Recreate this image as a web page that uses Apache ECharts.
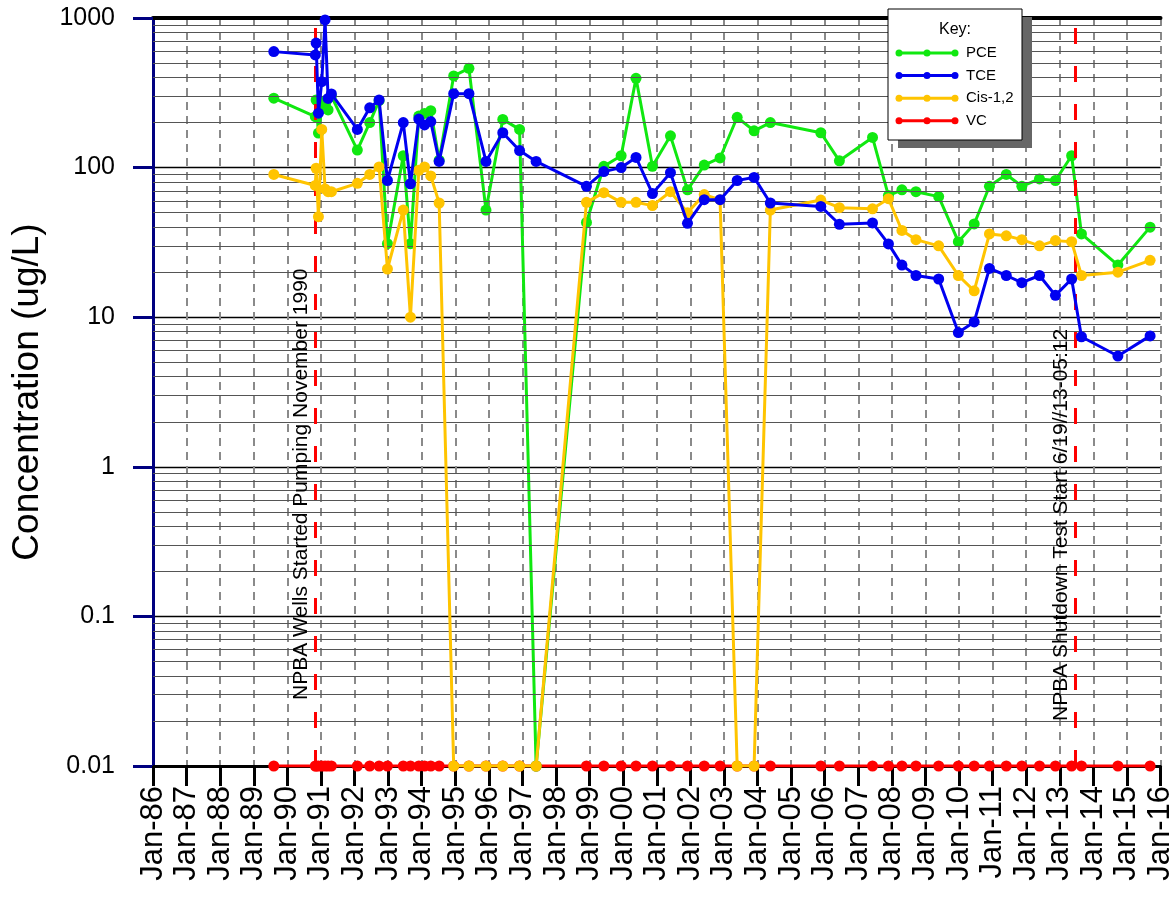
<!DOCTYPE html>
<html>
<head>
<meta charset="utf-8">
<script src="https://cdn.jsdelivr.net/npm/echarts@6/dist/echarts.min.js"></script>
<style>
html,body{margin:0;padding:0;background:#fff;}
#chart{width:1176px;height:901px;}
</style>
</head>
<body>
<div id="chart"></div>
<script>
// ---- data ----
const sampleDates = [
 '1989-08-07','1990-11-01','1990-11-10','1990-12-05','1991-01-10','1991-02-15','1991-03-20','1991-04-25',
 '1992-02-01','1992-06-15','1992-09-25','1992-12-25','1993-06-15','1993-09-01','1993-12-01','1994-02-01',
 '1994-04-10','1994-07-10','1994-12-15','1995-05-30','1995-12-01','1996-06-01','1996-12-01','1997-05-30',
 '1998-11-28','1999-06-05','1999-12-10','2000-05-20','2000-11-15','2001-05-30','2001-12-01','2002-06-01',
 '2002-11-20','2003-05-25','2003-11-25','2004-05-20','2005-11-20','2006-06-10','2007-06-05','2007-11-25',
 '2008-04-20','2008-09-20','2009-05-25','2009-12-25','2010-06-15','2010-11-28','2011-05-30','2011-11-15',
 '2012-05-25','2012-11-15','2013-05-10','2013-08-25','2014-09-25','2015-09-10'
];
const pce = [
 291,219,283,170,250,280,243,300,
 131,200,280,31,120,31,221,230,
 240,112,410,461,52,210,180,0.01,
 43,102,120,395,102,163,71,104,
 116,217,176,200,171,111,159,65,
 71,69,64,32,42,75,90,75,
 84,82,120,36,22.3,40
];
const tce = [
 596,566,680,231,375,970,290,311,
 180,251,283,82,200,78,211,193,
 203,110,312,312,110,171,130,110,
 75,94,100,117,67,92.5,42.4,61,
 61,82,86,58,55,41.8,42.7,30.9,
 22.3,19,18,7.9,9.3,21.2,19,17,
 19,14,18,7.4,5.5,7.5
];
const cis = [
 90,76,99,47,180,72,69,69,
 78.5,90,101,21,52,10,96,101,
 88,58,0.01,0.01,0.01,0.01,0.01,0.01,
 58.6,68,58.6,58.6,55.7,69,50,66,
 61,0.01,0.01,52,60.7,54,53,62,
 38,33,30,19,15,36,35,33,
 30,32.5,32,19,20,24
];
const vc = sampleDates.map(() => 0.01);

const seriesNames = ['PCE','TCE','Cis-1,2','VC'];
const seriesColors = ['#10e810','#0000f0','#ffc400','#ff0000'];
const minorGridValues = [];
[0.01,0.1,1,10,100].forEach(b => { for (let k = 2; k <= 9; k++) minorGridValues.push(+(b*k).toPrecision(3)); });
const eventLines = [
 {date:'1990-11-01', label:'NPBA Wells Started Pumping November 1990'},
 {date:'2013-06-19', label:'NPBA Shutdown Test Start 6/19//13-05:12'}
];

function toYear(s){
  const p = s.split('-').map(Number);
  const t = Date.UTC(p[0], p[1]-1, p[2]);
  const t0 = Date.UTC(p[0],0,1), t1 = Date.UTC(p[0]+1,0,1);
  return p[0] + (t - t0)/(t1 - t0);
}
const xs = sampleDates.map(toYear);
const pair = arr => arr.map((v,i) => [xs[i], v]);

const chart = echarts.init(document.getElementById('chart'), null, {renderer:'canvas'});

function lineSeries(name, arr, color, z){
  return {
    name, type:'line', data: pair(arr), z,
    symbol:'circle', symbolSize:11, showSymbol:true,
    lineStyle:{color, width:3}, itemStyle:{color},
    animation:false
  };
}

const option = {
  animation:false,
  backgroundColor:'#ffffff',
  grid:{left:153, right:11, top:18, bottom:135, containLabel:false},
  xAxis:[{
    type:'value', min:1986, max:2016, interval:1,
    axisLine:{show:true, onZero:false, lineStyle:{color:'#000', width:3}},
    axisTick:{show:true, inside:false, length:20, lineStyle:{color:'#000', width:3}},
    axisLabel:{rotate:90, margin:20, fontSize:31, fontFamily:'Liberation Sans, Arial', color:'#000',
      formatter: v => 'Jan-' + String(Math.round(v) % 100).padStart(2,'0')},
    splitLine:{show:true, lineStyle:{color:'#8a8a8a', width:2, type:[8,6]}}
  },{
    type:'value', min:1986, max:2016, position:'top',
    axisLine:{show:true, lineStyle:{color:'#000', width:4}},
    axisTick:{show:false}, axisLabel:{show:false}, splitLine:{show:false}
  }],
  yAxis:{
    type:'log', logBase:10, min:0.01, max:1000,
    name:'Concentration (ug/L)', nameLocation:'middle', nameGap:107, nameRotate:90,
    nameTextStyle:{fontSize:37, fontFamily:'Liberation Sans, Arial', color:'#000'},
    axisLine:{show:true, lineStyle:{color:'#000080', width:3}},
    axisTick:{show:true, inside:false, length:20, lineStyle:{color:'#000080', width:3}},
    axisLabel:{fontSize:25, margin:38, fontFamily:'Liberation Sans, Arial', color:'#000',
      formatter: v => String(v)},
    splitLine:{show:true, lineStyle:{color:'#000', width:1.3}},
    minorTick:{show:false}
  },
  series:[
    {
      name:'gridMinor', type:'line', data:[], silent:true, z:1,
      markLine:{silent:true, symbol:'none', animation:false, label:{show:false},
        lineStyle:{color:'#555', width:1, type:'solid'},
        data: minorGridValues.map(v => ({yAxis:v}))}
    },
    Object.assign(lineSeries('VC', vc, seriesColors[3], 3), {
      markLine:{silent:true, symbol:'none', animation:false, label:{show:false},
        lineStyle:{color:'#ff0000', width:3, type:[16,22]},
        data: eventLines.map(e => ({xAxis: toYear(e.date)}))}
    }),
    lineSeries('PCE', pce, seriesColors[0], 4),
    lineSeries('Cis-1,2', cis, seriesColors[2], 5),
    lineSeries('TCE', tce, seriesColors[1], 6)
  ]
};
chart.setOption(option);

// legend box + annotations
const legendX = 888, legendY = 9, legendW = 134, legendH = 131;
const legendItems = [];
seriesNames.forEach((n, i) => {
  const y = legendY + 44 + i * 22.6;
  const c = seriesColors[i];
  legendItems.push({type:'line', shape:{x1:legendX+11, y1:y, x2:legendX+67, y2:y}, style:{stroke:c, lineWidth:3}, z:101});
  [11, 39, 67].forEach(dx => legendItems.push({type:'circle', shape:{cx:legendX+dx, cy:y, r:3.5}, style:{fill:c}, z:102}));
  legendItems.push({type:'text', x:legendX+78, y:y, style:{text:n, fill:'#000', font:'15px "Liberation Sans", Arial', textVerticalAlign:'middle', textAlign:'left'}, z:102});
});
const graphics = [
  {type:'rect', shape:{x:legendX+10, y:legendY+8, width:legendW, height:legendH}, style:{fill:'#666'}, z:99},
  {type:'rect', shape:{x:legendX, y:legendY, width:legendW, height:legendH}, style:{fill:'#fff', stroke:'#000', lineWidth:1}, z:100},
  {type:'text', x:legendX+legendW/2, y:legendY+21, style:{text:'Key:', fill:'#000', font:'16px "Liberation Sans", Arial', textAlign:'center', textVerticalAlign:'middle'}, z:102}
].concat(legendItems);

eventLines.forEach((e, i) => {
  const p = chart.convertToPixel({xAxisIndex:0, yAxisIndex:0}, [toYear(e.date), 0.01]);
  graphics.push({type:'text', x:p[0]-4, y:p[1] - (i === 0 ? 66 : 45), rotation:Math.PI/2,
    style:{text:e.label, fill:'#000', font:'21px "Liberation Sans", Arial', textAlign:'left', textVerticalAlign:'bottom'}, z:50});
});
chart.setOption({graphic:graphics});
</script>
</body>
</html>
